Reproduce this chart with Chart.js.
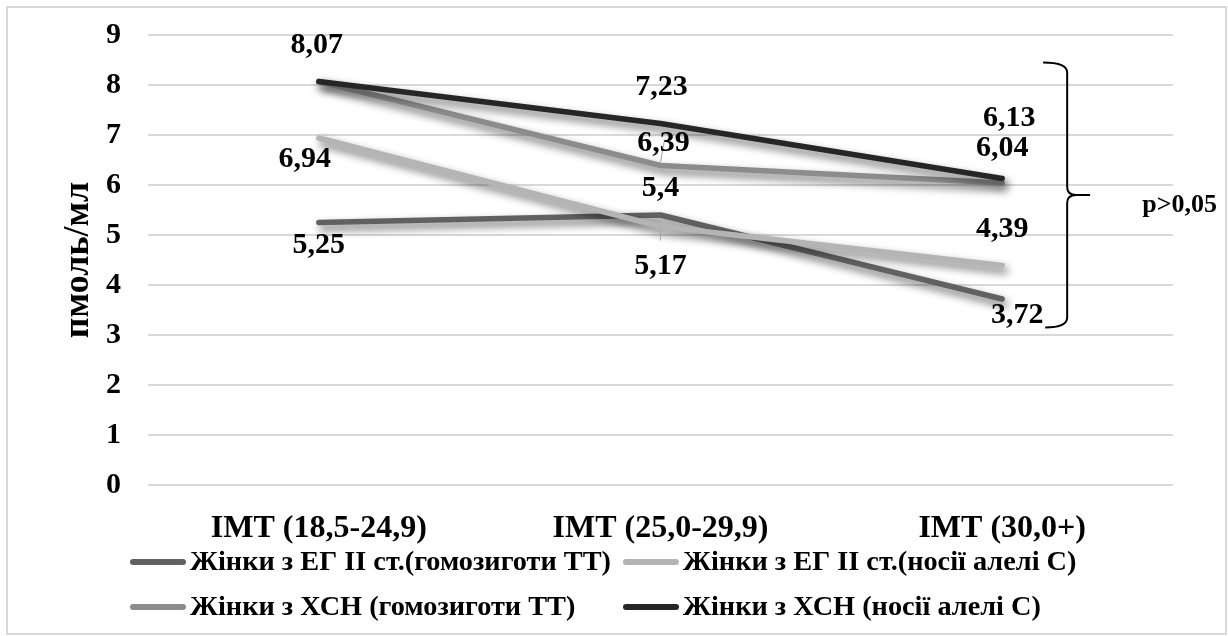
<!DOCTYPE html>
<html>
<head>
<meta charset="utf-8">
<script src="https://cdn.jsdelivr.net/npm/chart.js@4/dist/chart.umd.min.js"></script>
<style>
  html, body { margin: 0; padding: 0; background: #fff; }
  #wrap { width: 1228px; height: 636px; }
</style>
</head>
<body>
<div id="wrap"><canvas id="chart" width="1228" height="636"></canvas></div>
<script>
// ---- data ----
const categories = ['ІМТ (18,5-24,9)', 'ІМТ (25,0-29,9)', 'ІМТ (30,0+)'];
const seriesNames = [
  'Жінки з ЕГ ІІ ст.(гомозиготи ТТ)',
  'Жінки з ЕГ ІІ ст.(носії алелі С)',
  'Жінки з ХСН (гомозиготи ТТ)',
  'Жінки з ХСН (носії алелі С)'
];
const egHomozygousTT = [5.25, 5.4, 3.72];
const egCarriersC = [6.94, 5.17, 4.39];
const chfHomozygousTT = [8.07, 6.39, 6.04];
const chfCarriersC = [8.07, 7.23, 6.13];
const yTickValues = [0, 1, 2, 3, 4, 5, 6, 7, 8, 9];
const yAxisTitle = 'пмоль/мл';
const significanceText = 'p>0,05';
const bracketRange = [3.15, 8.45];

// ---- styling ----
const FONT = '"Liberation Serif", "Times New Roman", serif';
const lineColors = ['#616161', '#b4b4b4', '#8c8c8c', '#262626'];
// label offsets (px) from each point; null = label not drawn
const labelOffsets = [
  [[0, 23], [0, -27], [15, 16]],
  [[-14, 21], [0, 40], [0, -36]],
  [null, [3, -22], [0, -35]],
  [[-2, -36], [1, -36], [7, -60]]
];
// thin leader lines: [series, point, fromDy, toDx, toDy]
const leaders = [
  [1, 1, 0, 0, 14],
  [2, 1, -3, 4, -26]
];

const seriesValues = [egHomozygousTT, egCarriersC, chfHomozygousTT, chfCarriersC];

const fmt = v => String(v).replace('.', ',');

const frame = {
  id: 'frame',
  beforeDraw(chart) {
    const ctx = chart.ctx;
    ctx.save();
    ctx.fillStyle = '#fff';
    ctx.fillRect(0, 0, chart.width, chart.height);
    ctx.strokeStyle = '#d9d9d9';
    ctx.lineWidth = 2;
    ctx.strokeRect(7, 7, chart.width - 9, chart.height - 9);
    ctx.restore();
  }
};

const lineShadow = {
  id: 'lineShadow',
  beforeDatasetDraw(chart) {
    const ctx = chart.ctx;
    ctx.save();
    ctx.shadowColor = 'rgba(0,0,0,0.6)';
    ctx.shadowBlur = 8;
    ctx.shadowOffsetX = 3;
    ctx.shadowOffsetY = 5;
  },
  afterDatasetDraw(chart) {
    chart.ctx.restore();
  }
};

const valueLabels = {
  id: 'valueLabels',
  afterDatasetsDraw(chart) {
    const ctx = chart.ctx;
    ctx.save();
    // leader lines
    ctx.strokeStyle = '#a6a6a6';
    ctx.lineWidth = 1;
    leaders.forEach(([s, i, fy, tx, ty]) => {
      const p = chart.getDatasetMeta(s).data[i];
      ctx.beginPath();
      ctx.moveTo(p.x, p.y + fy);
      ctx.lineTo(p.x + tx, p.y + ty);
      ctx.stroke();
    });
    ctx.fillStyle = '#000';
    ctx.font = 'bold 30px ' + FONT;
    ctx.textAlign = 'center';
    ctx.textBaseline = 'middle';
    chart.data.datasets.forEach((ds, s) => {
      const meta = chart.getDatasetMeta(s);
      meta.data.forEach((p, i) => {
        const off = labelOffsets[s][i];
        if (!off) return;
        ctx.fillText(fmt(ds.data[i]), p.x + off[0], p.y + off[1]);
      });
    });
    ctx.restore();
  }
};

const bracket = {
  id: 'bracket',
  afterDraw(chart) {
    const ctx = chart.ctx;
    const y = chart.scales.y, x = chart.scales.x;
    const xs = x.getPixelForValue(categories.length - 1) + 65;
    const yTop = y.getPixelForValue(bracketRange[1]);
    const yBot = y.getPixelForValue(bracketRange[0]);
    const yMid = (yTop + yBot) / 2;
    ctx.save();
    ctx.strokeStyle = '#000';
    ctx.lineWidth = 2;
    ctx.beginPath();
    ctx.moveTo(xs - 24, yTop);
    ctx.quadraticCurveTo(xs, yTop, xs, yTop + 10);
    ctx.lineTo(xs, yMid - 8);
    ctx.quadraticCurveTo(xs, yMid, xs + 9, yMid);
    ctx.lineTo(xs + 23, yMid);
    ctx.moveTo(xs + 9, yMid);
    ctx.quadraticCurveTo(xs, yMid, xs, yMid + 8);
    ctx.lineTo(xs, yBot - 10);
    ctx.quadraticCurveTo(xs, yBot, xs - 22, yBot);
    ctx.stroke();
    ctx.fillStyle = '#000';
    ctx.font = 'bold 26px ' + FONT;
    ctx.textAlign = 'left';
    ctx.textBaseline = 'middle';
    ctx.fillText(significanceText, xs + 75, yMid + 10);
    ctx.restore();
  }
};

const gridLegend = {
  id: 'gridLegend',
  afterDraw(chart) {
    const ctx = chart.ctx;
    const colX = [130, 623];
    const rowY = [562, 607];
    ctx.save();
    ctx.font = 'bold 28.3px ' + FONT;
    ctx.textAlign = 'left';
    ctx.textBaseline = 'middle';
    chart.data.datasets.forEach((ds, i) => {
      const x0 = colX[i % 2], y0 = rowY[Math.floor(i / 2)];
      ctx.strokeStyle = ds.borderColor;
      ctx.lineWidth = 6;
      ctx.lineCap = 'round';
      ctx.beginPath();
      ctx.moveTo(x0 + 3, y0);
      ctx.lineTo(x0 + 53, y0);
      ctx.stroke();
      ctx.fillStyle = '#000';
      ctx.fillText(ds.label, x0 + 60, y0 + 1);
    });
    ctx.restore();
  }
};

const datasets = seriesValues.map((vals, i) => ({
  label: seriesNames[i],
  data: vals,
  borderColor: lineColors[i],
  backgroundColor: lineColors[i],
  borderWidth: 5.5,
  borderCapStyle: 'round',
  borderJoinStyle: 'round',
  pointRadius: 0,
  tension: 0,
  fill: false,
  order: seriesValues.length - i
}));

new Chart(document.getElementById('chart'), {
  type: 'line',
  data: { labels: categories, datasets },
  options: {
    responsive: false,
    animation: false,
    devicePixelRatio: 1,
    layout: { padding: { top: 35, right: 55, left: 0, bottom: 0 } },
    plugins: { legend: { display: false }, tooltip: { enabled: false } },
    scales: {
      x: {
        offset: true,
        grid: { display: false, drawTicks: false },
        border: { display: false },
        ticks: { color: '#000', font: { family: FONT, size: 32, weight: 'bold' }, padding: 25, maxRotation: 0 },
        afterFit(s) { s.height = 151; }
      },
      y: {
        min: yTickValues[0],
        max: yTickValues[yTickValues.length - 1],
        afterBuildTicks(s) { s.ticks = yTickValues.map(v => ({ value: v })); },
        grid: { color: '#d9d9d9', lineWidth: 2, drawTicks: false },
        border: { display: false },
        ticks: { color: '#000', font: { family: FONT, size: 30, weight: 'bold' }, padding: 27 },
        title: {
          display: true, text: yAxisTitle, color: '#000',
          font: { family: FONT, size: 36, weight: 'bold' },
          padding: { top: 57, bottom: 0 }
        },
        afterFit(s) { s.width = 148; s.paddingTop = 0; s.paddingBottom = 0; }
      }
    }
  },
  plugins: [frame, lineShadow, valueLabels, bracket, gridLegend]
});
</script>
</body>
</html>
